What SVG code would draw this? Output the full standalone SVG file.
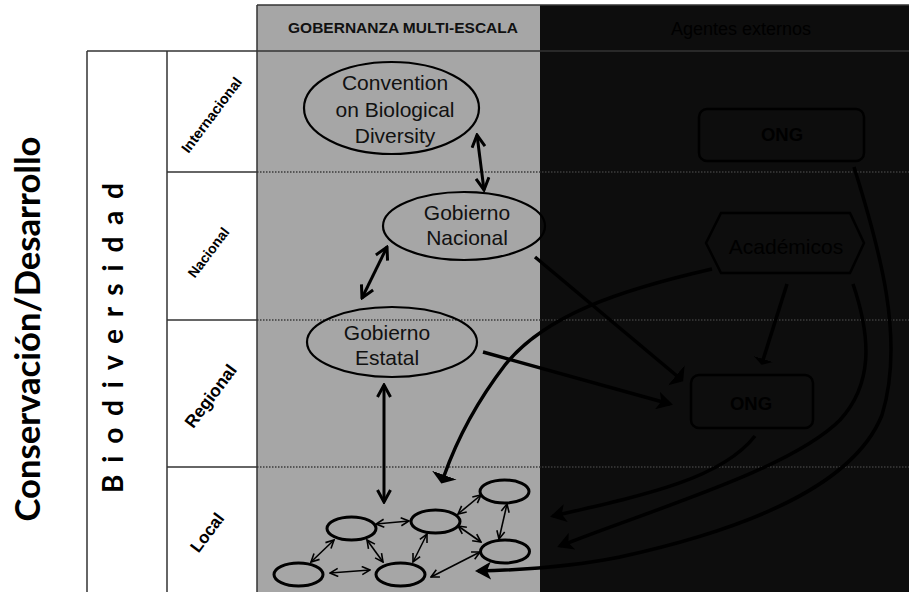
<svg xmlns="http://www.w3.org/2000/svg" width="909" height="592" viewBox="0 0 909 592">
  <style>
    .frame { fill: none; stroke: #333; stroke-width: 1.5; }
    .dots { stroke: #3c3c3c; stroke-width: 1.3; stroke-dasharray: 1.5 1.5; }
    .gov { fill: none; stroke: #000; stroke-width: 2.2; }
    .govtxt { font-family: "Liberation Sans", Arial, sans-serif; font-size: 21px; fill: #111; text-anchor: middle; }
    .cell { fill: none; stroke: #000; stroke-width: 3; }
    .ext { fill: none; stroke: #000; stroke-width: 2.5; }
    .exttxt { font-family: "Liberation Sans", Arial, sans-serif; fill: #000; text-anchor: middle; }
    .lvl { font-family: "Liberation Sans", Arial, sans-serif; font-weight: bold; fill: #000; text-anchor: middle; }
    .big { font-family: Lato, "Open Sans", sans-serif; font-weight: bold; fill: #000; text-anchor: middle; }
    .thick { fill: none; stroke: #000; stroke-width: 3; }
    .thin { fill: none; stroke: #000; stroke-width: 1.6; }
    .flow { fill: none; stroke: #000; stroke-width: 3.5; }
  </style>
  <defs>
    <marker id="open" markerUnits="userSpaceOnUse" viewBox="0 0 16 16" markerWidth="16" markerHeight="16" refX="14" refY="8" orient="auto-start-reverse">
      <path d="M2,1.5 L14,8 L2,14.5" fill="none" stroke="#000" stroke-width="3"/>
    </marker>
    <marker id="openSm" markerUnits="userSpaceOnUse" viewBox="0 0 10 10" markerWidth="10" markerHeight="10" refX="9" refY="5" orient="auto-start-reverse">
      <path d="M1,1 L9,5 L1,9" fill="none" stroke="#000" stroke-width="1.6"/>
    </marker>
    <marker id="flat" markerUnits="userSpaceOnUse" viewBox="0 0 10 26" markerWidth="10" markerHeight="26" refX="1" refY="13" orient="auto">
      <path d="M0,0 L9,13 L0,26 z" fill="#000"/>
    </marker>
    <marker id="flatSm" markerUnits="userSpaceOnUse" viewBox="0 0 7 20" markerWidth="7" markerHeight="20" refX="1" refY="10" orient="auto">
      <path d="M0,0 L6,10 L0,20 z" fill="#000"/>
    </marker>
    <marker id="stealth" markerUnits="userSpaceOnUse" viewBox="0 0 16 18" markerWidth="16" markerHeight="18" refX="13" refY="9" orient="auto">
      <path d="M0,0 L16,9 L0,18 L4,9 z" fill="#000"/>
    </marker>
  </defs>

  <rect width="909" height="592" fill="#fff"/>

  <!-- panels -->
  <rect x="257" y="5" width="283" height="587" fill="#a6a6a6"/>
  <rect x="540" y="5" width="369" height="587" fill="#0d0d0d"/>

  <!-- scale separators -->
  <g id="separators">
    <line class="dots" x1="257" y1="172" x2="909" y2="172"/>
    <line class="dots" x1="257" y1="320" x2="909" y2="320"/>
    <line class="dots" x1="257" y1="467" x2="909" y2="467"/>
  </g>

  <!-- left frame -->
  <g id="frame">
    <line class="frame" x1="257" y1="5" x2="909" y2="5"/>
    <line class="frame" x1="87" y1="51" x2="909" y2="51"/>
    <line class="frame" x1="87" y1="51" x2="87" y2="592"/>
    <line class="frame" x1="167" y1="51" x2="167" y2="592"/>
    <line class="frame" x1="257" y1="5" x2="257" y2="592"/>
    <line class="frame" x1="167" y1="172" x2="257" y2="172"/>
    <line class="frame" x1="167" y1="320" x2="257" y2="320"/>
    <line class="frame" x1="167" y1="467" x2="257" y2="467"/>
  </g>

  <!-- headers -->
  <g id="headers">
    <text x="403" y="33" font-family="Liberation Sans, Arial, sans-serif" font-weight="bold" font-size="15.5" fill="#111" text-anchor="middle">GOBERNANZA MULTI-ESCALA</text>
    <text x="741" y="35" font-family="Liberation Sans, Arial, sans-serif" font-size="18" fill="#000" text-anchor="middle">Agentes externos</text>
  </g>

  <!-- axis titles -->
  <g id="axis-titles">
    <text class="big" font-size="35" transform="translate(40,329) rotate(-90)" textLength="385" lengthAdjust="spacingAndGlyphs">Conservación/Desarrollo</text>
    <text class="big" font-size="28" transform="translate(123,338) rotate(-90)" textLength="310" lengthAdjust="spacing">B i o d i v e r s i d a d</text>
  </g>

  <!-- scale labels -->
  <g id="levels">
    <text class="lvl" font-size="14.5" dy="0.35em" transform="translate(211.5,115) rotate(-53)">Internacional</text>
    <text class="lvl" font-size="14" dy="0.35em" transform="translate(208.5,252.5) rotate(-53)">Nacional</text>
    <text class="lvl" font-size="17.5" dy="0.35em" transform="translate(210.5,396) rotate(-53)">Regional</text>
    <text class="lvl" font-size="17" dy="0.35em" transform="translate(207,532.5) rotate(-53)">Local</text>
  </g>

  <!-- governance nodes -->
  <g id="cbd">
    <ellipse class="gov" cx="391.5" cy="108" rx="87.5" ry="46"/>
    <text class="govtxt" x="395" y="90">Convention</text>
    <text class="govtxt" x="395" y="117">on Biological</text>
    <text class="govtxt" x="395" y="143">Diversity</text>
  </g>
  <g id="gobierno-nacional">
    <ellipse class="gov" cx="464" cy="226" rx="81" ry="34"/>
    <text class="govtxt" x="467" y="220">Gobierno</text>
    <text class="govtxt" x="467" y="245">Nacional</text>
  </g>
  <g id="gobierno-estatal">
    <ellipse class="gov" cx="392" cy="342" rx="85" ry="35"/>
    <text class="govtxt" x="387" y="340">Gobierno</text>
    <text class="govtxt" x="387" y="365">Estatal</text>
  </g>

  <!-- local actors -->
  <g id="local-1"><ellipse class="cell" cx="351.5" cy="528.5" rx="24.5" ry="11.5"/></g>
  <g id="local-2"><ellipse class="cell" cx="435.5" cy="521.5" rx="24.5" ry="11.5"/></g>
  <g id="local-3"><ellipse class="cell" cx="504.5" cy="491.5" rx="24.5" ry="11.5"/></g>
  <g id="local-4"><ellipse class="cell" cx="505" cy="551.5" rx="24.5" ry="11.5"/></g>
  <g id="local-5"><ellipse class="cell" cx="298.5" cy="574.5" rx="24.5" ry="11.5"/></g>
  <g id="local-6"><ellipse class="cell" cx="400.5" cy="574.5" rx="24.5" ry="11.5"/></g>

  <!-- external agents -->
  <g id="ong-top">
    <rect class="ext" x="699" y="109" width="165" height="52" rx="8"/>
    <text class="exttxt" x="782" y="141" font-size="18.5" font-weight="bold">ONG</text>
  </g>
  <g id="academicos">
    <polygon class="ext" points="706,243 721,213 850,213 864,243 850,273 721,273"/>
    <text class="exttxt" x="786" y="254" font-size="21">Académicos</text>
  </g>
  <g id="ong-regional">
    <rect class="ext" x="691" y="375" width="122" height="53" rx="8"/>
    <text class="exttxt" x="751" y="410" font-size="18.5" font-weight="bold">ONG</text>
  </g>

  <!-- connectors -->
  <g id="connectors">
    <line class="thick" x1="477" y1="135" x2="484" y2="190" marker-start="url(#open)" marker-end="url(#open)"/>
    <line class="thick" x1="387" y1="247" x2="362" y2="298" marker-start="url(#open)" marker-end="url(#open)"/>
    <line class="thick" x1="384" y1="385" x2="384" y2="502" marker-start="url(#open)" marker-end="url(#open)"/>

    <line class="thin" x1="376" y1="524" x2="409" y2="521" marker-start="url(#openSm)" marker-end="url(#openSm)"/>
    <line class="thin" x1="458" y1="514" x2="481" y2="495" marker-start="url(#openSm)" marker-end="url(#openSm)"/>
    <line class="thin" x1="507" y1="504" x2="499" y2="539" marker-start="url(#openSm)" marker-end="url(#openSm)"/>
    <line class="thin" x1="458" y1="526" x2="481" y2="542" marker-start="url(#openSm)" marker-end="url(#openSm)"/>
    <line class="thin" x1="334" y1="540" x2="311" y2="562" marker-start="url(#openSm)" marker-end="url(#openSm)"/>
    <line class="thin" x1="367" y1="540" x2="383" y2="562" marker-start="url(#openSm)" marker-end="url(#openSm)"/>
    <line class="thin" x1="427" y1="534" x2="413" y2="562" marker-start="url(#openSm)" marker-end="url(#openSm)"/>
    <line class="thin" x1="330" y1="573" x2="370" y2="570" marker-start="url(#openSm)" marker-end="url(#openSm)"/>
    <line class="thin" x1="480" y1="552" x2="431" y2="577" marker-start="url(#openSm)" marker-end="url(#openSm)"/>

    <line class="flow" x1="535" y1="257" x2="677" y2="376" marker-end="url(#flat)"/>
    <line class="flow" x1="483" y1="352" x2="670" y2="404" marker-end="url(#stealth)"/>
    <path class="flow" d="M712,269 C620,290 545,315 505,365 C472,408 455,445 444,476" marker-end="url(#flat)"/>
    <line class="flow" x1="787" y1="284" x2="763" y2="360" marker-end="url(#flatSm)"/>

    <path class="flow" d="M755,436 C722,478 650,494 553,516" marker-end="url(#stealth)"/>
    <path class="flow" d="M853,284 C872,340 872,385 840,420 C790,470 650,510 560,546" marker-end="url(#stealth)"/>
    <path class="flow" d="M854,167 C880,250 905,340 882,415 C850,495 720,535 620,557 C570,567 520,570 478,571" marker-end="url(#stealth)"/>
  </g>
</svg>
